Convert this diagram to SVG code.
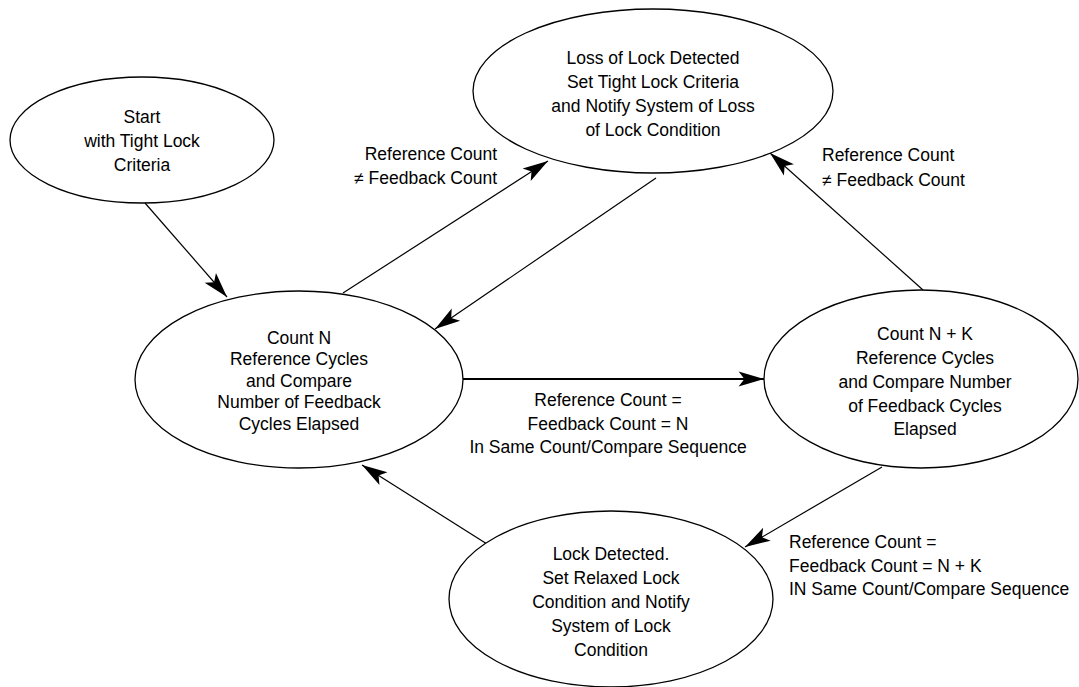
<svg xmlns="http://www.w3.org/2000/svg" width="1079" height="687" viewBox="0 0 1079 687">
<defs>
<style>
.node ellipse{fill:#fff;stroke:#000;stroke-width:1.3}
text{font-family:"Liberation Sans",Arial,Helvetica,sans-serif;font-size:17.5px;fill:#000}
.c{text-anchor:middle}
.r{text-anchor:end}
.edge{stroke:#000;stroke-width:1.2;fill:none;marker-end:url(#ah)}
.thick{stroke-width:2}
</style>
<marker id="ah" markerUnits="userSpaceOnUse" markerWidth="30" markerHeight="20" viewBox="-24 -8 26 16" refX="0" refY="0" orient="auto">
<path d="M0,0 L-22,-6.5 L-17,0 L-22,6.5 Z" fill="#000"/>
</marker>
</defs>
<rect width="1079" height="687" fill="#fff"/>
<g id="connectors">
<path class="edge" d="M145,203 L227,297"/>
<path class="edge" d="M343,293 L548,161"/>
<path class="edge" d="M656,178 L435,329"/>
<path class="edge thick" d="M463,379 L764,379"/>
<path class="edge" d="M923,290 L770,153"/>
<path class="edge" d="M882,467 L745,547"/>
<path class="edge" d="M487,544 L362,465"/>
<text class="r" x="497" y="160">Reference Count</text>
<text class="r" x="497" y="184">≠ Feedback Count</text>
<text x="822" y="161">Reference Count</text>
<text x="822" y="186">≠ Feedback Count</text>
<text class="c" x="608" y="406">Reference Count =</text>
<text class="c" x="608" y="430">Feedback Count = N</text>
<text class="c" x="608" y="453">In Same Count/Compare Sequence</text>
<text x="789" y="548">Reference Count =</text>
<text x="789" y="572">Feedback Count = N + K</text>
<text x="789" y="595">IN Same Count/Compare Sequence</text>
</g>
<g id="start" class="node">
<ellipse cx="142" cy="140" rx="132" ry="63"/>
<text class="c" x="142" y="123">Start</text>
<text class="c" x="142" y="147">with Tight Lock</text>
<text class="c" x="142" y="171">Criteria</text>
</g>
<g id="loss" class="node">
<ellipse cx="653" cy="91" rx="180" ry="82"/>
<text class="c" x="653" y="64">Loss of Lock Detected</text>
<text class="c" x="653" y="88">Set Tight Lock Criteria</text>
<text class="c" x="653" y="112">and Notify System of Loss</text>
<text class="c" x="653" y="136">of Lock Condition</text>
</g>
<g id="countN" class="node">
<ellipse cx="299" cy="379.5" rx="164" ry="88.5"/>
<text class="c" x="299" y="343.5">Count N</text>
<text class="c" x="299" y="365">Reference Cycles</text>
<text class="c" x="299" y="386.5">and Compare</text>
<text class="c" x="299" y="408">Number of Feedback</text>
<text class="c" x="299" y="429.5">Cycles Elapsed</text>
</g>
<g id="countNK" class="node">
<ellipse cx="921" cy="379" rx="157" ry="89"/>
<text class="c" x="925" y="339.5">Count N + K</text>
<text class="c" x="925" y="363.5">Reference Cycles</text>
<text class="c" x="925" y="388">and Compare Number</text>
<text class="c" x="925" y="411.5">of Feedback Cycles</text>
<text class="c" x="925" y="434.5">Elapsed</text>
</g>
<g id="lock" class="node">
<ellipse cx="611" cy="599" rx="162" ry="88"/>
<text class="c" x="611" y="559.5">Lock Detected.</text>
<text class="c" x="611" y="583.5">Set Relaxed Lock</text>
<text class="c" x="611" y="608">Condition and Notify</text>
<text class="c" x="611" y="632">System of Lock</text>
<text class="c" x="611" y="655.5">Condition</text>
</g>
</svg>
